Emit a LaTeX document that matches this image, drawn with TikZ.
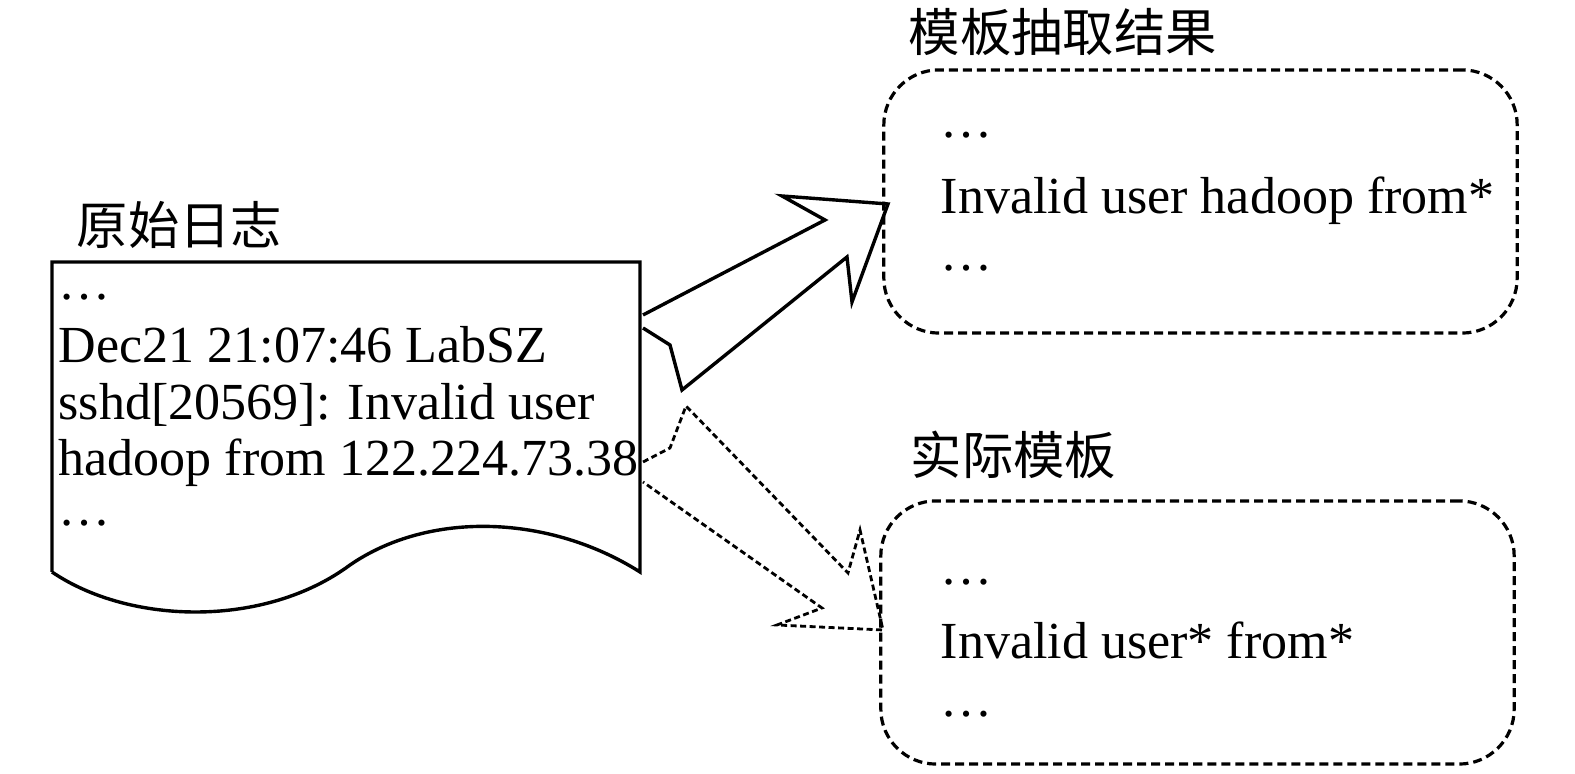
\documentclass[tikz,border=0pt]{standalone}
\usepackage{fontspec}
\setmainfont{Liberation Serif}
\newfontfamily\cjk{Noto Sans CJK SC}
\begin{document}
\begin{tikzpicture}[x=0.01cm,y=-0.01cm,
  txt/.style={anchor=base west,inner sep=0pt,font=\fontsize{14.8}{16}\selectfont},
  lbl/.style={anchor=west,inner sep=0pt,font=\cjk\fontsize{14.6}{16}\selectfont},
  tbox/.style={draw,line width=0.032cm,dash pattern=on 0.09cm off 0.05cm,rounded corners=0.55cm,minimum width=6.33cm,minimum height=2.63cm,inner sep=0pt},
  solidarrow/.style={draw,line width=0.034cm,line join=miter},
  dasharrow/.style={draw,line width=0.028cm,dash pattern=on 0.06cm off 0.035cm,line join=miter}]
\useasboundingbox (0,0) rectangle (1575,774);
% document shape
\coordinate (d1) at (52,262);
\coordinate (d2) at (640,262);
\coordinate (d3) at (640,572);
\coordinate (d4) at (52,572);
\draw[line width=0.034cm,line join=miter] (d4) -- (d1) -- (d2) -- (d3)
  .. controls (550,515) and (430,510) .. (350,565)
  .. controls (265,628) and (130,625) .. (d4);
\node[lbl] (lab1) at (76,225) {原始日志};
\node[txt] (t0) at (58,300) {\ldots};
\node[txt] (t1) at (58,363) {Dec21 21:07:46 LabSZ};
\node[txt] (t2) at (58,420) {sshd[20569]: Invalid user};
\node[txt] (t3) at (58,476) {hadoop from 122.224.73.38};
\node[txt] (t4) at (58,526) {\ldots};
% top result box
\node[tbox] (box1) at (1200.5,201.5) {};
\node[lbl] (lab2) at (908,32) {模板抽取结果};
\node[txt] (b10) at (940,138) {\ldots};
\node[txt] (b11) at (940,214) {Invalid user hadoop from*};
\node[txt] (b12) at (940,271) {\ldots};
% bottom template box
\node[tbox] (box2) at (1197.5,632.5) {};
\node[lbl] (lab3) at (910,455) {实际模板};
\node[txt] (b20) at (940,585) {\ldots};
\node[txt] (b21) at (940,659) {Invalid user* from*};
\node[txt] (b22) at (940,717) {\ldots};
% solid block arrow
\draw[solidarrow] (643,315) -- (825,220) -- (782,196) -- (888,204) -- (852,302) -- (847,257) -- (682,390) -- (670,345) -- (643,328);
% dashed block arrow
\draw[dasharrow] (643,462) -- (670,448) -- (686,406) -- (848,573) -- (860,530) -- (883,630) -- (777,625) -- (822,608) -- (643,482);
\end{tikzpicture}
\end{document}
